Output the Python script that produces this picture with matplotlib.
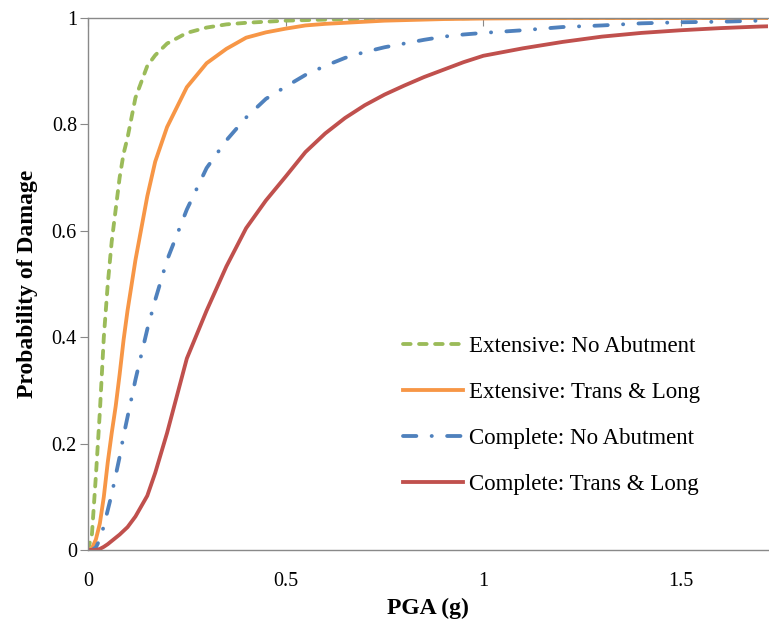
import matplotlib
matplotlib.use("Agg")
import matplotlib.pyplot as plt

pga = [0.0, 0.01, 0.02, 0.03, 0.04, 0.05, 0.06, 0.07, 0.08, 0.09, 0.10, 0.12, 0.15, 0.17,
       0.20, 0.25, 0.30, 0.35, 0.40, 0.45, 0.50, 0.55, 0.60, 0.65, 0.70, 0.75, 0.80, 0.85,
       0.90, 0.95, 1.00, 1.10, 1.20, 1.30, 1.40, 1.50, 1.60, 1.70, 1.75]

ext_no_abut = [0.0, 0.03, 0.14, 0.26, 0.40, 0.50, 0.58, 0.64, 0.70, 0.745, 0.775, 0.85, 0.91, 0.93,
               0.952, 0.972, 0.982, 0.988, 0.991, 0.993, 0.995, 0.996, 0.997, 0.9975, 0.998, 0.9985, 0.999, 0.999,
               0.9995, 0.9995, 1.0, 1.0, 1.0, 1.0, 1.0, 1.0, 1.0, 1.0, 1.0]

ext_trans_long = [0.0, 0.003, 0.02, 0.05, 0.10, 0.165, 0.22, 0.27, 0.33, 0.395, 0.45, 0.545, 0.665, 0.73,
                  0.795, 0.87, 0.915, 0.942, 0.963, 0.973, 0.980, 0.986, 0.989, 0.991, 0.993, 0.995, 0.996, 0.997,
                  0.998, 0.9985, 0.999, 0.9995, 1.0, 1.0, 1.0, 1.0, 1.0, 1.0, 1.0]

comp_no_abut = [0.0, 0.0, 0.005, 0.02, 0.045, 0.075, 0.105, 0.14, 0.175, 0.215, 0.25, 0.32, 0.415, 0.47,
                0.545, 0.64, 0.718, 0.770, 0.813, 0.848, 0.871, 0.893, 0.910, 0.925, 0.936, 0.945, 0.952, 0.959,
                0.965, 0.969, 0.972, 0.977, 0.983, 0.986, 0.990, 0.992, 0.993, 0.995, 0.995]

comp_trans_long = [0.0, 0.0, 0.0, 0.002, 0.006, 0.011, 0.017, 0.023, 0.029, 0.036, 0.043, 0.063, 0.102, 0.145,
                   0.22, 0.36, 0.45, 0.533, 0.605, 0.657, 0.702, 0.748, 0.783, 0.812, 0.836, 0.856, 0.873, 0.889,
                   0.903, 0.917, 0.929, 0.943, 0.955, 0.965, 0.972, 0.977, 0.981, 0.984, 0.985]

labels = ["Extensive: No Abutment", "Extensive: Trans & Long",
          "Complete: No Abutment", "Complete: Trans & Long"]
xticks = [0, 0.5, 1, 1.5]
xticklabels = ["0", "0.5", "1", "1.5"]
yticks = [0, 0.2, 0.4, 0.6, 0.8, 1.0]
yticklabels = ["0", "0.2", "0.4", "0.6", "0.8", "1"]

plt.rcParams['font.family'] = ['Liberation Serif', 'DejaVu Serif']

fig = plt.figure(figsize=(7.69, 6.24), dpi=100)
ax = fig.add_axes([88/769, 74/624, 680/769, 532/624])

lw = 2.75
ax.plot(pga, ext_no_abut, color="#9BBB59", lw=lw, dashes=(2.0, 2.2),
        dash_capstyle="round", label=labels[0])
ax.plot(pga, ext_trans_long, color="#F79646", lw=lw, label=labels[1])
ax.plot(pga, comp_no_abut, color="#4F81BD", lw=lw, dashes=(3.5, 4.0, 0.05, 4.0),
        dash_capstyle="round", label=labels[2])
ax.plot(pga, comp_trans_long, color="#C0504D", lw=lw, label=labels[3])

ax.set_xlim(0, 1.72)
ax.set_ylim(0, 1)
ax.set_xticks(xticks)
ax.set_xticklabels(xticklabels)
ax.set_yticks(yticks)
ax.set_yticklabels(yticklabels)

for s in ["left", "bottom", "top"]:
    ax.spines[s].set_color("#898989")
    ax.spines[s].set_linewidth(1.0)
ax.spines["right"].set_visible(False)

ax.tick_params(axis="y", direction="out", length=6, color="#898989", labelsize=14.5, pad=2)
ax.tick_params(axis="x", direction="in", length=6, color="#898989", labelsize=14.5, pad=16,
               top=True, bottom=False)

ax.set_xlabel("PGA (g)", fontsize=17, fontweight="bold", labelpad=5)
ax.set_ylabel("Probability of Damage", fontsize=17, fontweight="bold", labelpad=10)

leg = ax.legend(loc="lower left", bbox_to_anchor=(0.437, 0.068), frameon=False,
                fontsize=16.5, handlelength=2.6, handletextpad=0.25, labelspacing=1.1,
                borderpad=0.3)

fig.savefig("out.png", dpi=100)
